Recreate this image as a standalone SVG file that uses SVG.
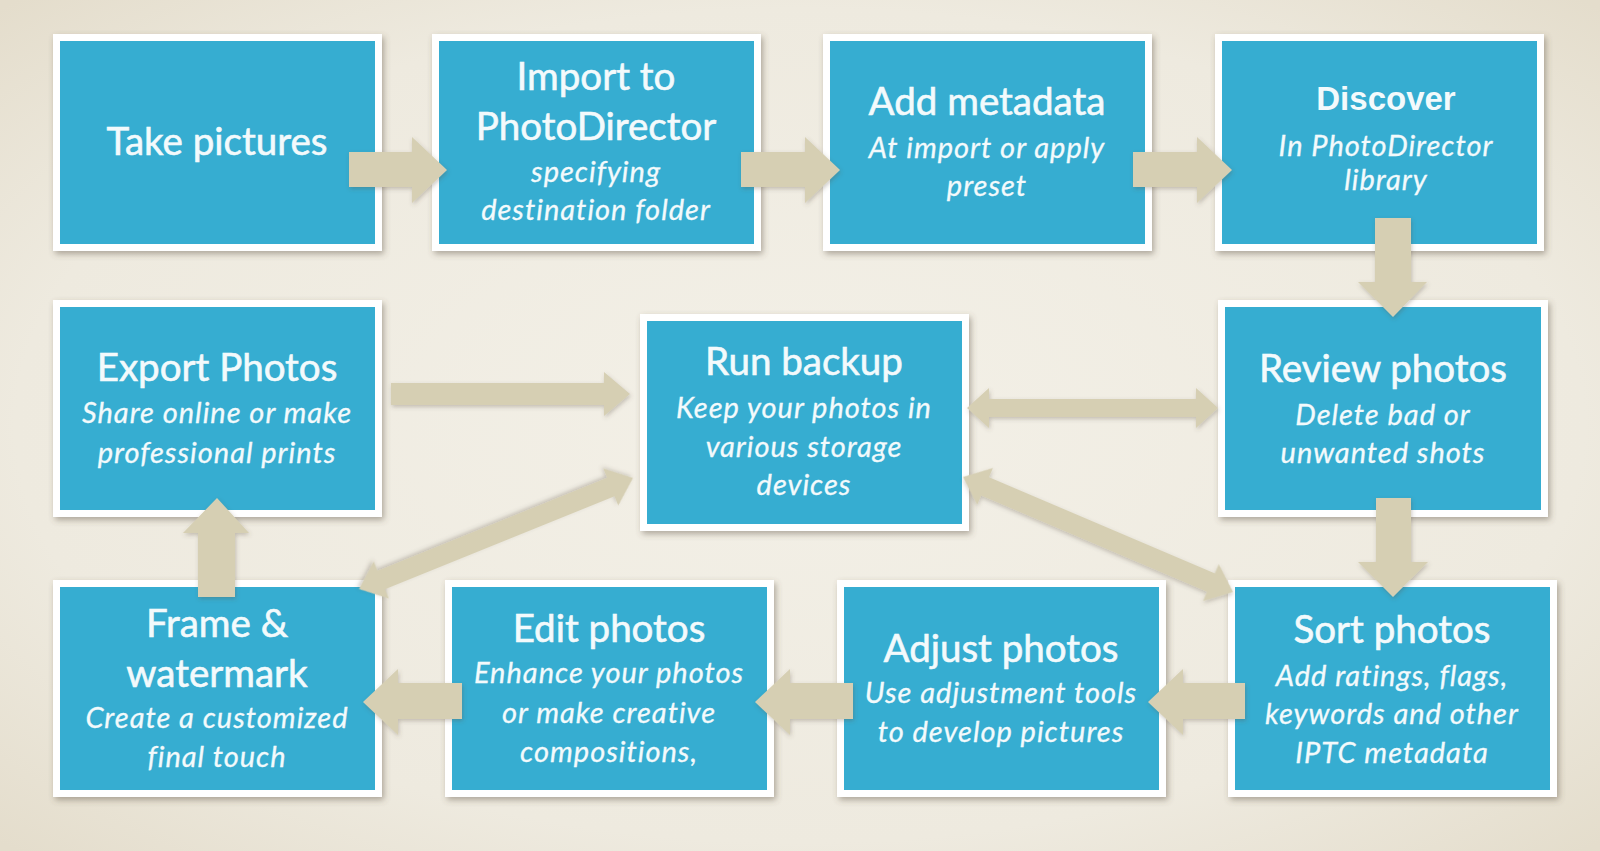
<svg xmlns="http://www.w3.org/2000/svg" width="1600" height="851" viewBox="0 0 1600 851">
<defs>
<radialGradient id="bg" cx="50%" cy="50%" r="70%">
<stop offset="0" stop-color="#f3f0e7"/>
<stop offset="0.7" stop-color="#eeeadf"/>
<stop offset="1" stop-color="#e4ddcc"/>
</radialGradient>
<filter id="sh" x="-10%" y="-10%" width="125%" height="130%">
<feDropShadow dx="2" dy="3" stdDeviation="3" flood-color="#5a5040" flood-opacity="0.45"/>
</filter>
<filter id="ash" x="-10%" y="-10%" width="125%" height="130%">
<feDropShadow dx="1" dy="2" stdDeviation="2" flood-color="#5a5040" flood-opacity="0.3"/>
</filter>
</defs>
<style>
.frame{fill:#ffffff;filter:url(#sh)}
.inner{fill:#36add1}
.t{font-family:Lato,"Open Sans",sans-serif;fill:#f3fafc;stroke:#f3fafc;stroke-width:0.6px;text-anchor:middle;font-size:38.5px}
.s{font-family:Lato,"Open Sans",sans-serif;font-style:italic;fill:#f3fafc;stroke:#f3fafc;stroke-width:0.3px;text-anchor:middle;font-size:29px;letter-spacing:1px}
.d{font-family:"Liberation Sans",Arial,sans-serif;font-weight:bold;fill:#f3fafc;text-anchor:middle;font-size:33px}
.arr{fill:#d6cfb3;filter:url(#ash)}
</style>
<rect width="1600" height="851" fill="url(#bg)"/>

<g id="take-pictures">
<rect class="frame" x="53" y="34" width="329" height="217"/>
<rect class="inner" x="60" y="41" width="315" height="203"/>
<text class="t" x="217" y="155">Take pictures</text>
</g>
<g id="import">
<rect class="frame" x="432" y="34" width="329" height="217"/>
<rect class="inner" x="439" y="41" width="315" height="203"/>
<text class="t" x="596" y="90">Import to</text>
<text class="t" x="596" y="140">PhotoDirector</text>
<text class="s" x="596" y="182">specifying</text>
<text class="s" x="596" y="220">destination folder</text>
</g>
<g id="add-metadata">
<rect class="frame" x="823" y="34" width="329" height="217"/>
<rect class="inner" x="830" y="41" width="315" height="203"/>
<text class="t" x="987" y="115">Add metadata</text>
<text class="s" x="987" y="158">At import or apply</text>
<text class="s" x="987" y="196">preset</text>
</g>
<g id="discover">
<rect class="frame" x="1215" y="34" width="329" height="217"/>
<rect class="inner" x="1222" y="41" width="315" height="203"/>
<text class="d" x="1386" y="110">Discover</text>
<text class="s" x="1386" y="156">In PhotoDirector</text>
<text class="s" x="1386" y="190">library</text>
</g>
<g id="export-photos">
<rect class="frame" x="53" y="300" width="329" height="217"/>
<rect class="inner" x="60" y="307" width="315" height="203"/>
<text class="t" x="217" y="381">Export Photos</text>
<text class="s" x="217" y="423">Share online or make</text>
<text class="s" x="217" y="463">professional prints</text>
</g>
<g id="run-backup">
<rect class="frame" x="640" y="314" width="329" height="217"/>
<rect class="inner" x="647" y="321" width="315" height="203"/>
<text class="t" x="804" y="375">Run backup</text>
<text class="s" x="804" y="418">Keep your photos in</text>
<text class="s" x="804" y="457">various storage</text>
<text class="s" x="804" y="495">devices</text>
</g>
<g id="review-photos">
<rect class="frame" x="1218" y="300" width="330" height="217"/>
<rect class="inner" x="1225" y="307" width="316" height="203"/>
<text class="t" x="1383" y="382">Review photos</text>
<text class="s" x="1383" y="425">Delete bad or</text>
<text class="s" x="1383" y="463">unwanted shots</text>
</g>
<g id="frame-watermark">
<rect class="frame" x="53" y="580" width="329" height="217"/>
<rect class="inner" x="60" y="587" width="315" height="203"/>
<text class="t" x="217" y="637">Frame &amp;</text>
<text class="t" x="217" y="687">watermark</text>
<text class="s" x="217" y="728">Create a customized</text>
<text class="s" x="217" y="767">final touch</text>
</g>
<g id="edit-photos">
<rect class="frame" x="445" y="580" width="329" height="217"/>
<rect class="inner" x="452" y="587" width="315" height="203"/>
<text class="t" x="609" y="642">Edit photos</text>
<text class="s" x="609" y="683">Enhance your photos</text>
<text class="s" x="609" y="723">or make  creative</text>
<text class="s" x="609" y="762">compositions,</text>
</g>
<g id="adjust-photos">
<rect class="frame" x="837" y="580" width="329" height="217"/>
<rect class="inner" x="844" y="587" width="315" height="203"/>
<text class="t" x="1001" y="662">Adjust photos</text>
<text class="s" x="1001" y="703">Use adjustment tools</text>
<text class="s" x="1001" y="742">to develop pictures</text>
</g>
<g id="sort-photos">
<rect class="frame" x="1228" y="580" width="329" height="217"/>
<rect class="inner" x="1235" y="587" width="315" height="203"/>
<text class="t" x="1392" y="643">Sort photos</text>
<text class="s" x="1392" y="686">Add ratings, flags,</text>
<text class="s" x="1392" y="724">keywords and other</text>
<text class="s" x="1392" y="763">IPTC metadata</text>
</g>

<g id="connectors">
<polygon class="arr" points="349,152 412,152 412,137 447,170 412,203 412,187 349,187"/>
<polygon class="arr" points="741,152 805,152 805,137 840,170 805,203 805,187 741,187"/>
<polygon class="arr" points="1133,152 1197,152 1197,137 1232,170 1197,203 1197,187 1133,187"/>
<polygon class="arr" points="1375,218 1411,218 1411,282 1427,282 1393,317 1358,282 1375,282"/>
<polygon class="arr" points="1376,498 1411,498 1411,562 1428,562 1393,597 1358,562 1376,562"/>
<polygon class="arr" points="198,597 235,597 235,533 249,533 217,498 183,533 198,533"/>
<polygon class="arr" points="1245,683 1183,683 1183,669 1148,702 1183,735 1183,719 1245,719"/>
<polygon class="arr" points="853,683 790,683 790,669 755,702 790,735 790,719 853,719"/>
<polygon class="arr" points="462,683 398,683 398,669 363,702 398,735 398,719 462,719"/>
<polygon class="arr" points="391,383 604,383 604,372 630,394 604,416 604,405 391,405"/>
<polygon class="arr" points="967,408 989,388 989,399 1196,399 1196,388 1218,408 1196,428 1196,417 989,417 989,428"/>
<polygon class="arr" transform="translate(633,478) rotate(157.95)" points="0,0 24,-20 24,-10 271.6,-10 271.6,-20 295.6,0 271.6,20 271.6,10 24,10 24,20"/>
<polygon class="arr" transform="translate(963,477) rotate(23.07)" points="0,0 24,-20 24,-10 269.5,-10 269.5,-20 293.5,0 269.5,20 269.5,10 24,10 24,20"/>
</g>
</svg>
